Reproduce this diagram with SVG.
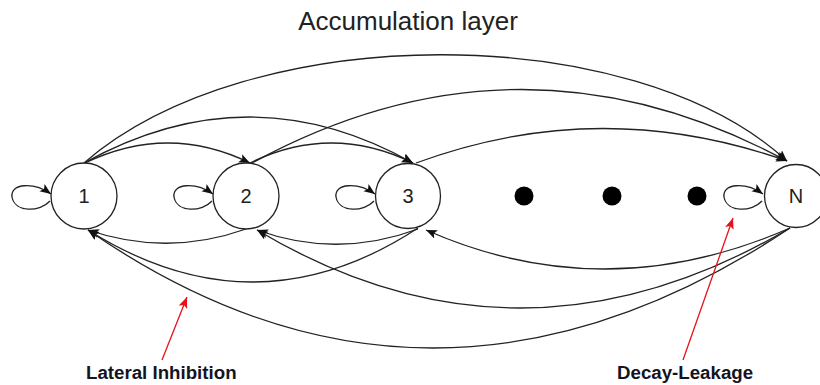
<svg xmlns="http://www.w3.org/2000/svg" width="820" height="385" viewBox="0 0 820 385">
<style>
.node circle{fill:#fff;stroke:#222;stroke-width:1.3}
.node text{font-family:"Liberation Sans",Arial,sans-serif;font-size:20px;fill:#222;text-anchor:middle}
.e{fill:none;stroke:#222;stroke-width:1.3;marker-end:url(#ah)}
.r{fill:none;stroke:#e8101a;stroke-width:1.3;marker-end:url(#rh)}
.lbl{font-family:"Liberation Sans",Arial,sans-serif;font-size:18.7px;font-weight:bold;fill:#14141f}
.dot{fill:#000}
</style>
<defs>
<marker id="ah" markerUnits="userSpaceOnUse" markerWidth="12" markerHeight="10" refX="11" refY="4.5" orient="auto">
<path d="M0,0 L11,4.5 L0,9 L2.5,4.5 z" fill="#111"/>
</marker>
<marker id="rh" markerUnits="userSpaceOnUse" markerWidth="12" markerHeight="10" refX="11" refY="4.5" orient="auto">
<path d="M0,0 L11,4.5 L0,9 L2.5,4.5 z" fill="#e8101a"/>
</marker>
<path id="loop" d="M50,201 C40,212 15,213 12,197 C10,183 34,182 51,194"/>
</defs>
<text x="408" y="30" font-family="Liberation Sans,Arial,sans-serif" font-size="26" fill="#222" text-anchor="middle">Accumulation layer</text>
<g id="connectors">
<path class="e" d="M85,163 Q168,123 250,163"/>
<path class="e" d="M84,163 Q250,71 413,163"/>
<path class="e" d="M84,163 C250,19 633,19 787,161"/>
<path class="e" d="M250,163 Q331,123 413,163"/>
<path class="e" d="M252,163 Q520,17 787,161"/>
<path class="e" d="M416,163 Q600,95 787,161"/>
<path class="e" d="M246,229 Q167,257 88,230"/>
<path class="e" d="M418,228 Q255,335 88,230"/>
<path class="e" d="M790,228 Q430,467 88,230"/>
<path class="e" d="M418,229 Q337,259 257,230"/>
<path class="e" d="M790,228 Q520,387 257,230"/>
<path class="e" d="M790,228 Q605,309 426,230"/>
<use href="#loop" class="e"/>
<use href="#loop" class="e" transform="translate(162,0)"/>
<use href="#loop" class="e" transform="translate(324,0)"/>
<use href="#loop" class="e" transform="translate(712,0)"/>
<path class="r" d="M162,360 L187,297"/>
<path class="r" d="M683,360 L733,218"/>
</g>
<g id="n1" class="node"><circle cx="84" cy="196" r="33"/><text x="84" y="203">1</text></g>
<g id="n2" class="node"><circle cx="246" cy="196" r="33"/><text x="246" y="203">2</text></g>
<g id="n3" class="node"><circle cx="408" cy="196" r="32.5"/><text x="408" y="203">3</text></g>
<g id="nN" class="node"><circle cx="796" cy="196" r="31.5"/><text x="796" y="203">N</text></g>
<g id="dots">
<circle class="dot" cx="524" cy="196" r="9.5"/>
<circle class="dot" cx="612" cy="196" r="9.5"/>
<circle class="dot" cx="697" cy="196" r="9.5"/>
</g>
<text class="lbl" x="86" y="379">Lateral Inhibition</text>
<text class="lbl" x="617" y="379">Decay-Leakage</text>
</svg>
